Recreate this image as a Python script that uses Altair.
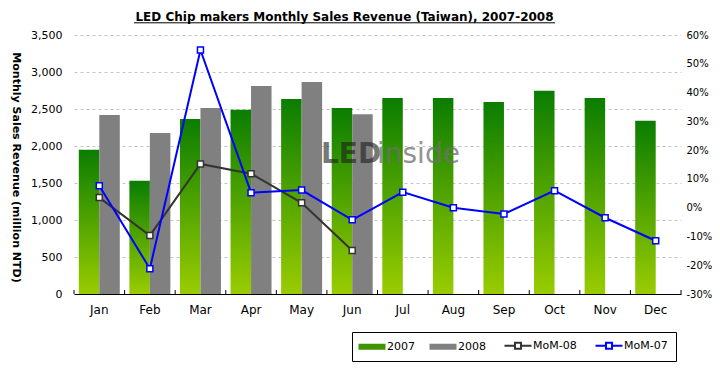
import altair as alt
import pandas as pd

months = ['Jan', 'Feb', 'Mar', 'Apr', 'May', 'Jun', 'Jul', 'Aug', 'Sep', 'Oct', 'Nov', 'Dec']
rev_2007 = [1950, 1530, 2365, 2490, 2635, 2515, 2650, 2650, 2595, 2745, 2650, 2340]
rev_2008 = [2420, 2175, 2515, 2810, 2865, 2430]
mom_08 = [3.5, -9.7, 15.2, 11.8, 1.7, -14.9]
mom_07 = [7.6, -21.2, 54.8, 5.2, 6.1, -4.2, 5.4, 0.0, -2.2, 5.9, -3.5, -11.5]
series_names = ['2007', '2008', 'MoM-08', 'MoM-07']
series_colors = ['#3f9400', '#808080', '#333333', '#0000ff']
rev_ticks = [0, 500, 1000, 1500, 2000, 2500, 3000, 3500]
pct_ticks = [-30, -20, -10, 0, 10, 20, 30, 40, 50, 60]
title_text = 'LED Chip makers Monthly Sales Revenue (Taiwan), 2007-2008'
y_title = 'Monthly Sales Revenue (million NTD)'
watermark = ['LED', 'inside']

FONT = 'DejaVu Sans'
W, H = 607, 259

bars = pd.DataFrame({
    'month': months + months[:6],
    'year': ['2007'] * 12 + ['2008'] * 6,
    'revenue': rev_2007 + rev_2008,
})
lines = pd.DataFrame({
    'month': months[:6] + months,
    'series': ['MoM-08'] * 6 + ['MoM-07'] * 12,
    'pct': mom_08 + mom_07,
})
month_df = pd.DataFrame({'month': months})
one_row = pd.DataFrame({'title': [title_text], 'wm1': [watermark[0]], 'wm2': [watermark[1]]})

green_dark, green_light = '#0a7d00', '#99cc00'
gradient = alt.LinearGradient(
    gradient='linear',
    stops=[alt.GradientStop(color=green_dark, offset=0), alt.GradientStop(color=green_light, offset=1)],
    x1=0, x2=0, y1=0, y2=1,
)

x_scale = alt.Scale(domain=months, paddingInner=0, paddingOuter=0)
x_axis = alt.Axis(title=None, labelAngle=0, labelFont=FONT, labelFontSize=12, labelColor='black',
                  labelPadding=10, domainColor='black', domainWidth=1, ticks=False, grid=False)
x_enc = alt.X('month:N', scale=x_scale, axis=x_axis)
xoff = alt.XOffset('year:N', scale=alt.Scale(domain=['2007', '2008'], paddingOuter=0.234, paddingInner=0))

left_axis = alt.Axis(
    title=y_title, values=rev_ticks, format=',d', orient='left', grid=True, gridColor='#c4c4c4',
    gridDash=[3, 3], domain=False, ticks=False, labelFont=FONT, labelFontSize=11, labelColor='black',
    labelPadding=12, titleFont=FONT, titleFontSize=11, titleFontWeight='bold', titleColor='black',
    titleAngle=90, titleX=-59, titleY=132, titleAlign='center', titleBaseline='middle',
)
y_rev = alt.Y('revenue:Q', scale=alt.Scale(domain=[0, 3500], nice=False), axis=left_axis)

right_axis = alt.Axis(
    title=None, orient='right', values=pct_ticks, labelExpr="datum.value + '%'", domain=False,
    ticks=False, grid=False, labelFont=FONT, labelFontSize=10, labelColor='black', labelPadding=5,
)
y_pct = alt.Y('pct:Q', scale=alt.Scale(domain=[-30, 60], nice=False), axis=right_axis)

RECT_PATH = 'M-1,-0.43H2.857V0.43H-1Z'
LINE_PATH = 'M-1,0H0.5M1.36,0H2.857M0.5,-0.43H1.36V0.43H0.5Z'
is_bar = "(datum.value == '2007' || datum.value == '2008')"
legend = alt.Legend(
    title=None, orient='none', legendX=278, legendY=297, direction='horizontal',
    symbolSize=196, strokeColor='black', fillColor='white', padding=8,
    labelFont=FONT, labelFontSize=11, labelColor='black', labelOffset=16, columnPadding=14,
    symbolType={"expr": f"{is_bar} ? '{RECT_PATH}' : '{LINE_PATH}'"},
    symbolFillColor={"expr": f"{is_bar} ? scale('color', datum.value) : 'white'"},
    symbolStrokeWidth={"expr": f"{is_bar} ? 0 : 2"},
    symbolOpacity=1,
)
color_scale = alt.Scale(domain=series_names, range=series_colors)

bar07 = alt.Chart(bars).transform_filter("datum.year == '2007'").mark_bar(color=gradient).encode(
    x=x_enc, xOffset=xoff, y=y_rev)
bar08 = alt.Chart(bars).transform_filter("datum.year == '2008'").mark_bar(color='#808080').encode(
    x=x_enc, xOffset=xoff, y=y_rev)
ticks_left = alt.Chart(month_df).mark_rule(color='black', strokeWidth=1).encode(
    x=alt.X('month:N', scale=x_scale, axis=x_axis, bandPosition=0),
    y=alt.value(H - 4), y2=alt.value(H))
ticks_end = alt.Chart(month_df).transform_filter("datum.month == 'Dec'").mark_rule(
    color='black', strokeWidth=1).encode(
    x=alt.X('month:N', scale=x_scale, axis=x_axis, bandPosition=1),
    y=alt.value(H - 4), y2=alt.value(H))

# chart title (underlined) and faint watermark, drawn as text decorations
title_mark = alt.Chart(one_row).mark_text(
    font=FONT, fontSize=12, fontWeight='bold', color='black', align='center', baseline='alphabetic'
).encode(text='title:N', x=alt.value(270.5), y=alt.value(-14))
underline = alt.Chart(one_row).mark_rule(color='black', strokeWidth=1).encode(
    x=alt.value(60), x2=alt.value(481), y=alt.value(-12.2))
wm_a = alt.Chart(one_row).mark_text(
    font=FONT, fontSize=28, fontWeight='bold', color='#1e1e1e', opacity=0.6, align='left',
    baseline='alphabetic'
).encode(text='wm1:N', x=alt.value(247), y=alt.value(128))
wm_b = alt.Chart(one_row).mark_text(
    font=FONT, fontSize=28, color='#707070', opacity=0.75, align='left', baseline='alphabetic'
).encode(text='wm2:N', x=alt.value(303), y=alt.value(128))

left_layer = alt.layer(bar07, bar08, ticks_left, ticks_end, wm_a, wm_b, title_mark, underline)

def series_layers(name):
    base = alt.Chart(lines).transform_filter(f"datum.series == '{name}'")
    ln = base.mark_line(strokeWidth=2).encode(
        x=x_enc, y=y_pct, color=alt.Color('series:N', scale=color_scale, legend=legend))
    pt = base.mark_point(shape='square', filled=False, fill='white', size=36, strokeWidth=1.5,
                         opacity=1).encode(
        x=x_enc, y=y_pct, color=alt.Color('series:N', scale=color_scale, legend=None))
    return [ln, pt]

right_layer = alt.layer(*series_layers('MoM-08'), *series_layers('MoM-07'))

chart = alt.layer(left_layer, right_layer).resolve_scale(y='independent').properties(
    width=W, height=H,
    autosize=alt.AutoSizeParams(type='none'),
    padding={'left': 66, 'top': 27, 'right': 31, 'bottom': 72},
    background='white',
).configure_view(stroke=None)

chart.save('out.html', embed_options={'renderer': 'svg', 'actions': False})
